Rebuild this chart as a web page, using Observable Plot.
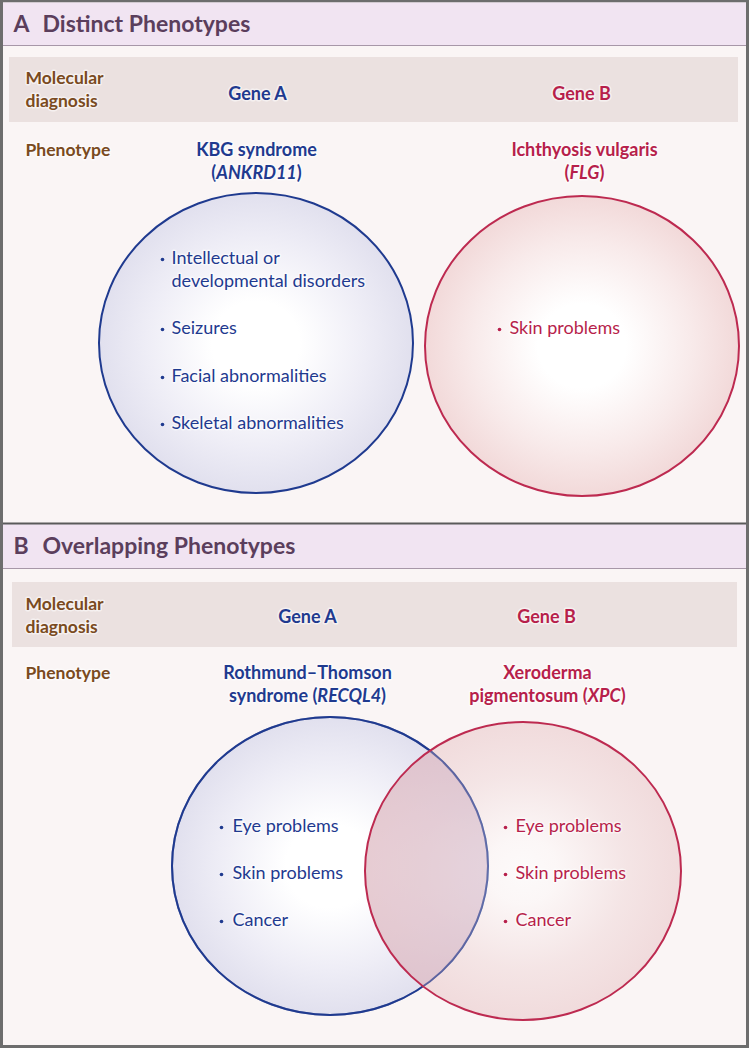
<!DOCTYPE html>
<html>
<head>
<meta charset="utf-8">
<script src="https://cdn.jsdelivr.net/npm/d3@7"></script>
<script src="https://cdn.jsdelivr.net/npm/@observablehq/plot@0.6"></script>
<style>
  html, body { margin: 0; padding: 0; background: #ffffff; }
  #chart svg { display: block; }
</style>
</head>
<body>
<div id="chart"></div>
<script>
// ---------- content ----------
const panelLetters = ["A", "B"];
const panelTitles = ["Distinct Phenotypes", "Overlapping Phenotypes"];
const rowLabelsMolecular = ["Molecular", "diagnosis"];
const rowLabelPhenotype = "Phenotype";
const geneNames = ["Gene A", "Gene B"];
const phenotypeNamesA = [["KBG syndrome", "(*ANKRD11*)"], ["Ichthyosis vulgaris", "(*FLG*)"]];
const phenotypeNamesB = [["Rothmund\u2013Thomson", "syndrome (*RECQL4*)"], ["Xeroderma", "pigmentosum (*XPC*)"]];
const featuresA1 = ["Intellectual or\ndevelopmental disorders", "Seizures", "Facial abnormalities", "Skeletal abnormalities"];
const featuresA2 = ["Skin problems"];
const featuresB1 = ["Eye problems", "Skin problems", "Cancer"];
const featuresB2 = ["Eye problems", "Skin problems", "Cancer"];

// ---------- layout (pixel units of a 750 x 1050 canvas) ----------
const layout = {
  frame: {x1: 1.5, x2: 747.5, y1: 1, y2: 1046.5},
  headers: [{x1: 3, x2: 746, y1: 2.5, y2: 45}, {x1: 3, x2: 746, y1: 523, y2: 568}],
  headerLines: [45, 568],
  separator: 523,
  bands: [{x1: 9, x2: 738, y1: 57, y2: 122}, {x1: 12, x2: 737, y1: 582, y2: 647}],
  headerY: [24, 546], letterX: 13, titleX: 42,
  labelX: 25, molY: [[78, 101], [604, 627]], phenoY: [150, 673],
  geneX: [[257, 581], [307, 546]], geneY: [94, 617],
  nameX: [[256, 584], [307, 547]], nameY: [[150, 173], [673, 696]],
  circles: [
    [{cx: 256, cy: 343, rx: 157, ry: 150}, {cx: 582, cy: 346, rx: 157, ry: 150}],
    [{cx: 330, cy: 866, rx: 158, ry: 149}, {cx: 523, cy: 871, rx: 158, ry: 149}]
  ],
  itemRows: [[[258, 328, 376, 423], [328]], [[826, 873, 920], [826, 873, 920]]],
  bulletX: [[162, 499], [221, 505]],
  itemX: [[171, 509], [232, 515]],
  lineStep: 23
};

const BLUE = "#1f3a8f", RED = "#b71f4b", BROWN = "#7a4a20", HEAD = "#5b3e5c";
const STROKE_RED = "#bd2a50", LENS = "#d6b4c2";
const colors = [BLUE, RED];

// ---------- build mark tables ----------
const headerLetterData = panelLetters.map((t, i) => ({x: layout.letterX, y: layout.headerY[i], text: t}));
const headerTitleData = panelTitles.map((t, i) => ({x: layout.titleX, y: layout.headerY[i], text: t}));

const labelData = [];
[0, 1].forEach(s => {
  rowLabelsMolecular.forEach((t, j) => labelData.push({x: layout.labelX, y: layout.molY[s][j], text: t}));
  labelData.push({x: layout.labelX, y: layout.phenoY[s], text: rowLabelPhenotype});
});

const nameData = [];
[phenotypeNamesA, phenotypeNamesB].forEach((names, s) => {
  geneNames.forEach((g, k) => nameData.push({x: layout.geneX[s][k], y: layout.geneY[s], text: g, fill: colors[k]}));
  names.forEach((lines, k) => lines.forEach((t, j) =>
    nameData.push({x: layout.nameX[s][k], y: layout.nameY[s][j], text: t, fill: colors[k]})));
});

const itemData = [], bulletData = [];
[[featuresA1, featuresA2], [featuresB1, featuresB2]].forEach((pair, s) => {
  pair.forEach((feats, k) => {
    feats.forEach((f, i) => {
      const y0 = layout.itemRows[s][k][i];
      f.split("\n").forEach((line, j) =>
        itemData.push({x: layout.itemX[s][k], y: y0 + j * layout.lineStep, text: line, fill: colors[k]}));
      bulletData.push({x: layout.bulletX[s][k], y: y0 + 1, fill: colors[k]});
    });
  });
});

const circleData = layout.circles.map((pair, s) => pair.map((c, k) => ({
  x1: c.cx - c.rx, x2: c.cx + c.rx, y1: c.cy - c.ry, y2: c.cy + c.ry, k, s
})));

// ---------- gradients and the clip for the overlap lens ----------
function defsMark(index, scales) {
  const sx = scales && scales.x ? scales.x : (v => v);
  const sy = scales && scales.y ? scales.y : (v => v);
  const defs = d3.create("svg:defs");
  const add = (id, stops) => {
    const g = defs.append("radialGradient").attr("id", id)
      .attr("cx", "50%").attr("cy", "50%").attr("r", "50%");
    stops.forEach(([o, c]) => g.append("stop").attr("offset", o).attr("stop-color", c));
  };
  add("gBlue", [["0%", "#ffffff"], ["28%", "#ffffff"], ["70%", "#eeedf6"], ["100%", "#e1e0ee"]]);
  add("gRed", [["0%", "#ffffff"], ["28%", "#ffffff"], ["70%", "#f8eaea"], ["100%", "#f2d9d9"]]);
  add("gRedT", [["0%", "#ffffff"], ["22%", "#fdf8f8"], ["65%", "#efd6d7"], ["100%", "#e8c3c5"]]);
  const L = circleData[1][0];
  defs.append("clipPath").attr("id", "lensClip")
    .append("ellipse")
    .attr("cx", (sx(L.x1) + sx(L.x2)) / 2)
    .attr("cy", (sy(L.y1) + sy(L.y2)) / 2)
    .attr("rx", Math.abs(sx(L.x2) - sx(L.x1)) / 2)
    .attr("ry", Math.abs(sy(L.y2) - sy(L.y1)) / 2);
  return defs.node();
}

const fontFamily = "Lato, 'Open Sans', sans-serif";
const halo = {stroke: "#ffffff", strokeWidth: 3, strokeOpacity: 0.55};
const ell = {x1: "x1", x2: "x2", y1: "y1", y2: "y2", rx: 1000, ry: 1000};

const chart = Plot.plot({
  width: 750,
  height: 1050,
  margin: 0,
  x: {domain: [0, 750], range: [0, 750], axis: null},
  y: {domain: [0, 1050], range: [0, 1050], axis: null},
  style: {fontFamily, background: "#ffffff", overflow: "visible"},
  marks: [
    defsMark,
    // frame and panel backgrounds
    Plot.rect([layout.frame], {x1: "x1", x2: "x2", y1: "y1", y2: "y2", fill: "#faf5f5", stroke: "#6d6d6d", strokeWidth: 3}),
    Plot.rect(layout.headers, {x1: "x1", x2: "x2", y1: "y1", y2: "y2", fill: "#f1e4f2"}),
    Plot.ruleY(layout.headerLines, {x1: 3, x2: 746, stroke: "#a797a8", strokeWidth: 1.2}),
    Plot.ruleY([layout.separator], {x1: 3, x2: 746, stroke: "#5a5a5a", strokeWidth: 2}),
    Plot.rect(layout.bands, {x1: "x1", x2: "x2", y1: "y1", y2: "y2", fill: "#ebe1e0"}),
    // circles, panel A
    Plot.rect([circleData[0][0]], {...ell, fill: "url(#gBlue)", stroke: BLUE, strokeWidth: 2}),
    Plot.rect([circleData[0][1]], {...ell, fill: "url(#gRed)", stroke: STROKE_RED, strokeWidth: 2}),
    // circles, panel B
    Plot.rect([circleData[1][0]], {...ell, fill: "url(#gBlue)", stroke: BLUE, strokeWidth: 2}),
    Plot.rect([circleData[1][1]], {...ell, fill: "url(#gRedT)", fillOpacity: 0.52}),
    Plot.rect([circleData[1][1]], {...ell, fill: LENS, fillOpacity: 0.45}),          // overlap lens (clipped below)
    Plot.rect([circleData[1][0]], {...ell, fill: "none", stroke: BLUE, strokeWidth: 2, strokeOpacity: 0.5}),
    Plot.rect([circleData[1][1]], {...ell, fill: "none", stroke: STROKE_RED, strokeWidth: 2}),
    // headers
    Plot.text(headerLetterData, {x: "x", y: "y", text: "text", textAnchor: "start", fill: HEAD, fontSize: 23, fontWeight: 700}),
    Plot.text(headerTitleData, {x: "x", y: "y", text: "text", textAnchor: "start", fill: HEAD, fontSize: 23, fontWeight: 700}),
    // row labels
    Plot.text(labelData, {x: "x", y: "y", text: "text", textAnchor: "start", fill: BROWN, fontSize: 17.5, fontWeight: 700, ...halo}),
    // gene and phenotype names
    Plot.text(nameData, {x: "x", y: "y", text: "text", textAnchor: "middle", fill: "fill", fontSize: 18, fontWeight: 700, ...halo}),
    // features
    Plot.dot(bulletData, {x: "x", y: "y", r: 1.8, fill: "fill"}),
    Plot.text(itemData, {x: "x", y: "y", text: "text", textAnchor: "start", fill: "fill", fontSize: 18, fontWeight: 400, ...halo})
  ]
});

// clip the lens to the left circle of panel B
d3.select(chart).selectAll("g").filter(function () {
  return (this.getAttribute("fill") || "").toLowerCase() === LENS;
}).attr("clip-path", "url(#lensClip)");

// italic gene symbols marked with *...*
d3.select(chart).selectAll("text").each(function () {
  const t = this.textContent;
  if (t.includes("*")) {
    const parts = t.split("*");
    this.textContent = "";
    parts.forEach((p, i) => {
      if (!p) return;
      const ts = d3.select(this).append("tspan").text(p);
      if (i % 2) ts.attr("font-style", "italic");
    });
  }
});

document.getElementById("chart").appendChild(chart);
</script>
</body>
</html>
